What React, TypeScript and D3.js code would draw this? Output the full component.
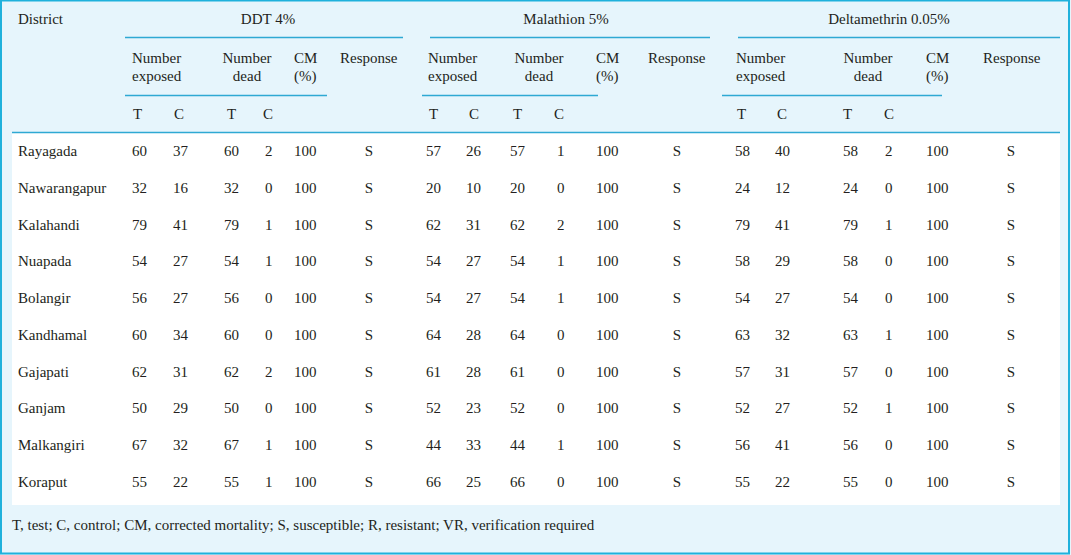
import { scaleLinear } from 'd3';

const width = 1071;
const height = 555;

const districts = ['Rayagada', 'Nawarangapur', 'Kalahandi', 'Nuapada', 'Bolangir', 'Kandhamal', 'Gajapati', 'Ganjam', 'Malkangiri', 'Koraput'];
const insecticides = ['DDT 4%', 'Malathion 5%', 'Deltamethrin 0.05%'];
// [exposed T, exposed C, dead T, dead C]
const ddt = [[60, 37, 60, 2], [32, 16, 32, 0], [79, 41, 79, 1], [54, 27, 54, 1], [56, 27, 56, 0], [60, 34, 60, 0], [62, 31, 62, 2], [50, 29, 50, 0], [67, 32, 67, 1], [55, 22, 55, 1]];
const malathion = [[57, 26, 57, 1], [20, 10, 20, 0], [62, 31, 62, 2], [54, 27, 54, 1], [54, 27, 54, 1], [64, 28, 64, 0], [61, 28, 61, 0], [52, 23, 52, 0], [44, 33, 44, 1], [66, 25, 66, 0]];
const deltamethrin = [[58, 40, 58, 2], [24, 12, 24, 0], [79, 41, 79, 1], [58, 29, 58, 0], [54, 27, 54, 0], [63, 32, 63, 1], [57, 31, 57, 0], [52, 27, 52, 1], [56, 41, 56, 0], [55, 22, 55, 0]];
const cm = [100, 100, 100];
const response = ['S', 'S', 'S'];
const footnote = 'T, test; C, control; CM, corrected mortality; S, susceptible; R, resistant; VR, verification required';

// layout of each insecticide block (x positions)
const blocks = [
  { title: 268, top: [125, 403], sub: [125, 327], exp: 132, dead: 247, cols: [132, 173, 224, 265], hcols: [133, 174, 227, 263], cm: 294, resp: 340, s: 369 },
  { title: 566, top: [430, 710], sub: [422, 598], exp: 428, dead: 539, cols: [426, 466, 510, 557], hcols: [429, 469, 513, 554], cm: 596, resp: 648, s: 677 },
  { title: 889, top: [738, 1060], sub: [722, 942], exp: 736, dead: 868, cols: [735, 775, 843, 885], hcols: [737, 777, 843, 884], cm: 926, resp: 983, s: 1011 },
];

const lineColor = '#2ea9d3';
const bg = '#e6f5fc';
const ink = '#231f20';
const font = "'Liberation Serif', 'Times New Roman', serif";

const y = scaleLinear().domain([0, districts.length - 1]).range([156, 487]);

const App = () => {
  const series = [ddt, malathion, deltamethrin];
  return (
    <svg width={width} height={height} style={{ position: 'absolute', left: 0, top: 0, fontFamily: font, fontSize: 15 }} fill={ink}>
      <rect x={0} y={0} width={width} height={height} fill={bg} />
      <rect x={12} y={133} width={1048} height={372} fill="#ffffff" />
      {/* outer frame */}
      <rect x={1} y={0.5} width={width - 3} height={height - 2} fill="none" stroke="#1fb1dc" strokeWidth={2} />
      <line x1={12} x2={1060} y1={132.5} y2={132.5} stroke={lineColor} strokeWidth={1.5} />

      <text x={18} y={24}>District</text>
      {blocks.map((b, i) => (
        <g key={i}>
          <text x={b.title} y={24} textAnchor="middle">{insecticides[i]}</text>
          <line x1={b.top[0]} x2={b.top[1]} y1={37.5} y2={37.5} stroke={lineColor} strokeWidth={1.5} />
          <line x1={b.sub[0]} x2={b.sub[1]} y1={95.5} y2={95.5} stroke={lineColor} strokeWidth={1.5} />
          <text x={b.exp} y={63}>Number</text>
          <text x={b.exp} y={81}>exposed</text>
          <text x={b.dead} y={63} textAnchor="middle">Number</text>
          <text x={b.dead} y={81} textAnchor="middle">dead</text>
          <text x={b.cm} y={63}>CM</text>
          <text x={b.cm} y={81}>(%)</text>
          <text x={b.resp} y={63}>Response</text>
          {['T', 'C', 'T', 'C'].map((h, j) => (
            <text key={j} x={b.hcols[j]} y={119}>{h}</text>
          ))}
        </g>
      ))}

      {districts.map((d, r) => (
        <g key={d}>
          <text x={18} y={y(r)}>{d}</text>
          {blocks.map((b, i) => (
            <g key={i}>
              {series[i][r].map((v, j) => (
                <text key={j} x={b.cols[j]} y={y(r)}>{v}</text>
              ))}
              <text x={b.cm} y={y(r)}>{cm[i]}</text>
              <text x={b.s} y={y(r)} textAnchor="middle">{response[i]}</text>
            </g>
          ))}
        </g>
      ))}

      <text x={12} y={530}>{footnote}</text>
    </svg>
  );
};

export default App;
